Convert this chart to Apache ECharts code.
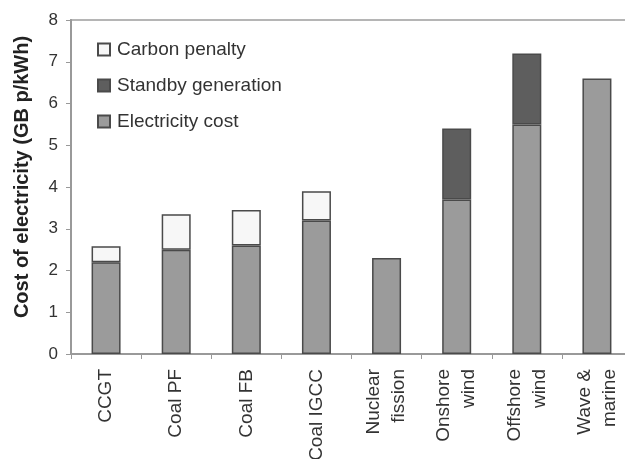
<!DOCTYPE html>
<html>
<head>
<meta charset="utf-8">
<script src="https://cdn.jsdelivr.net/npm/echarts@6/dist/echarts.min.js"></script>
<style>
    html, body { margin: 0; padding: 0; background: #fff; }
    #chart { width: 625px; height: 459px; }
</style>
</head>
<body>
<div id="chart"></div>
<script>
// categories and stacked values (GB p/kWh)
var categories = ['CCGT', 'Coal PF', 'Coal FB', 'Coal IGCC', 'Nuclear\nfission', 'Onshore\nwind', 'Offshore\nwind', 'Wave &\nmarine'];
var electricityCost = [2.2, 2.5, 2.6, 3.2, 2.3, 3.7, 5.5, 6.6];
var standbyGeneration = [null, null, null, null, null, 1.7, 1.7, null];
var carbonPenalty = [0.38, 0.85, 0.85, 0.7, null, null, null, null];
var yTicks = [0, 1, 2, 3, 4, 5, 6, 7, 8];

var chart = echarts.init(document.getElementById('chart'));

var border = { borderColor: '#4a4a4a', borderWidth: 1.5 };

var option = {
    animation: false,
    textStyle: { fontFamily: 'Liberation Sans, Arial, sans-serif' },
    legend: {
        orient: 'vertical',
        left: 92,
        top: 35,
        itemWidth: 12,
        itemHeight: 12,
        itemGap: 17,
        icon: 'rect',
        textStyle: { fontSize: 19, color: '#333', padding: [0, 0, 0, 2] },
        data: ['Carbon penalty', 'Standby generation', 'Electricity cost']
    },
    grid: {
        left: 71,
        top: 20,
        width: 561,
        bottom: 105,
        outerBoundsMode: 'none',
        show: true,
        borderColor: '#b5b5b5',
        borderWidth: 2
    },
    xAxis: {
        type: 'category',
        data: categories,
        axisLine: { lineStyle: { color: '#999', width: 2 } },
        axisTick: { show: true, length: 5, lineStyle: { color: '#999' } },
        axisLabel: {
            rotate: 90,
            fontSize: 19,
            color: '#333',
            lineHeight: 25,
            margin: 15,
            padding: [16, 0, 0, 0],
            interval: 0
        }
    },
    yAxis: {
        type: 'value',
        min: yTicks[0],
        max: yTicks[yTicks.length - 1],
        interval: 1,
        name: 'Cost of electricity (GB p/kWh)',
        nameLocation: 'middle',
        nameGap: 39,
        nameTextStyle: { fontSize: 20, fontWeight: 'bold', color: '#222', padding: [0, 0, 0, 20] },
        axisLine: { show: true, lineStyle: { color: '#999', width: 2 } },
        axisTick: { show: true, length: 5, lineStyle: { color: '#999' } },
        axisLabel: { fontSize: 17, color: '#333', margin: 13 },
        splitLine: { show: false }
    },
    series: [
        {
            name: 'Electricity cost',
            type: 'bar',
            stack: 'cost',
            barWidth: 29,
            data: electricityCost,
            itemStyle: Object.assign({ color: '#9b9b9b' }, border)
        },
        {
            name: 'Standby generation',
            type: 'bar',
            stack: 'cost',
            data: standbyGeneration,
            itemStyle: Object.assign({ color: '#5e5e5e' }, border)
        },
        {
            name: 'Carbon penalty',
            type: 'bar',
            stack: 'cost',
            data: carbonPenalty,
            itemStyle: Object.assign({ color: '#f7f7f7' }, border)
        }
    ]
};

chart.setOption(option);
</script>
</body>
</html>
